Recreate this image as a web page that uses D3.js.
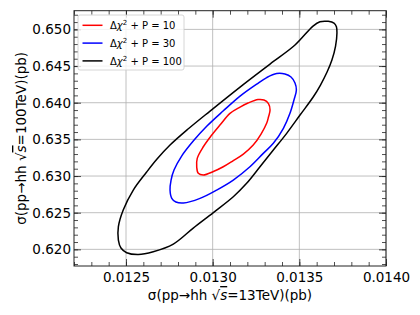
<!DOCTYPE html>
<html>
<head>
<meta charset="utf-8">
<script src="https://cdn.jsdelivr.net/npm/d3@7"></script>
<style>
  body { margin: 0; background: #fff; }
  svg { font-family: "DejaVu Sans", sans-serif; }
  .grid line { stroke: #b0b0b0; stroke-width: 0.8; }
  .contour { fill: none; stroke-width: 1.5; stroke-linejoin: round; }
</style>
</head>
<body>
<svg id="chart"></svg>
<script>
const width = 420, height = 315;
const margin = { left: 74, right: 34, top: 10.7, bottom: 49 };

// contour levels (legend order)
const levels = ["10", "30", "100"];
const colors = ["#ff0000", "#0000ff", "#000000"];

// contour points [sigma13, sigma100]
const contour10 = [
  [0.013262, 0.640431], [0.013296, 0.640363], [0.013322, 0.639886], [0.013331, 0.639000],
  [0.013322, 0.638045], [0.013312, 0.637226], [0.013279, 0.635726], [0.013234, 0.634226],
  [0.013177, 0.633000], [0.013119, 0.632113], [0.013061, 0.631267], [0.013004, 0.630613],
  [0.012946, 0.630136], [0.012917, 0.630367], [0.012908, 0.631227], [0.012911, 0.632413],
  [0.012946, 0.633995], [0.012990, 0.635454], [0.013042, 0.636954], [0.013100, 0.638549],
  [0.013158, 0.639408], [0.013204, 0.639954]
];
const contour30 = [
  [0.013369, 0.643977], [0.013417, 0.643909], [0.013452, 0.643500], [0.013475, 0.642682],
  [0.013483, 0.641727], [0.013469, 0.640363], [0.013446, 0.638549], [0.013408, 0.636503],
  [0.013350, 0.634458], [0.013292, 0.633094], [0.013215, 0.631267], [0.013119, 0.629453],
  [0.013023, 0.628091], [0.012927, 0.626958], [0.012831, 0.626318],
  [0.012788, 0.626454], [0.012764, 0.626958], [0.012754, 0.628091], [0.012760, 0.629454],
  [0.012777, 0.630818], [0.012821, 0.632727], [0.012888, 0.634772], [0.012967, 0.636818],
  [0.013060, 0.638863], [0.013158, 0.640909], [0.013254, 0.642545], [0.013312, 0.643431]
];
const contour100 = [
  [0.013619, 0.651041], [0.013667, 0.651095], [0.013700, 0.650863], [0.013714, 0.650359],
  [0.013717, 0.649500], [0.013709, 0.647727], [0.013688, 0.645818], [0.013660, 0.644182],
  [0.013622, 0.642408], [0.013581, 0.640813], [0.013504, 0.638317], [0.013427, 0.635822],
  [0.013350, 0.633544], [0.013273, 0.631267], [0.013196, 0.629003], [0.013119, 0.627176],
  [0.013004, 0.625021], [0.012888, 0.622907], [0.012773, 0.620727],
  [0.012657, 0.619677], [0.012571, 0.619295],
  [0.012504, 0.619541], [0.012471, 0.620182], [0.012456, 0.621273], [0.012456, 0.623087],
  [0.012484, 0.625364], [0.012542, 0.628091], [0.012619, 0.630545], [0.012679, 0.632317],
  [0.012754, 0.634226], [0.012858, 0.636408], [0.012985, 0.638863], [0.013158, 0.642136],
  [0.013331, 0.645272], [0.013475, 0.647863], [0.013579, 0.650454]
];
const contours = [contour10, contour30, contour100];

// axis ticks
const xMajor = [0.0125, 0.0130, 0.0135, 0.0140];
const yMajor = [0.620, 0.625, 0.630, 0.635, 0.640, 0.645, 0.650];
const xDomain = [0.0122, 0.0140];
const yDomain = [0.61773, 0.65255];

const svg = d3.select("#chart").attr("width", width).attr("height", height);
const x0 = margin.left, x1 = width - margin.right;
const y0 = height - margin.bottom, y1 = margin.top;

const x = d3.scaleLinear().domain(xDomain).range([x0, x1]);
const y = d3.scaleLinear().domain(yDomain).range([y0, y1]);

const xMinor = d3.range(122, 141).map(d => d / 10000);
const yMinor = d3.range(618, 653).map(d => d / 1000);

// grid lines
const grid = svg.append("g").attr("class", "grid");
grid.selectAll(".gx").data(xMajor).enter().append("line")
    .attr("x1", d => x(d)).attr("x2", d => x(d))
    .attr("y1", y0).attr("y2", y1);
grid.selectAll(".gy").data(yMajor).enter().append("line")
    .attr("y1", d => y(d)).attr("y2", d => y(d))
    .attr("x1", x0).attr("x2", x1);

// contours
const line = d3.line()
    .x(d => x(d[0]))
    .y(d => y(d[1]))
    .curve(d3.curveCatmullRomClosed.alpha(0.5));
svg.selectAll(".contour").data(contours).enter().append("path")
    .attr("class", "contour")
    .attr("d", line)
    .attr("stroke", (d, i) => colors[i]);

// axes with inward ticks on all sides
function addAxis(axisFn, scale, vals, len, transform, fmt) {
    const a = axisFn(scale).tickValues(vals).tickSizeInner(-len).tickSizeOuter(0);
    if (fmt) a.tickFormat(fmt).tickPadding(len === 7 ? 4 : 3);
    else a.tickFormat("");
    const g = svg.append("g").attr("transform", transform).call(a);
    g.select(".domain").remove();
    g.selectAll(".tick line").attr("stroke", "#222").attr("stroke-width", 0.8);
    g.selectAll("text").attr("font-size", 13.5).attr("fill", "#000")
        .attr("font-family", "DejaVu Sans");
    return g;
}
const xLabelFmt = d3.format(".4f"), yLabelFmt = d3.format(".3f");
addAxis(d3.axisBottom, x, xMinor, 4, `translate(0,${y0})`, null);
addAxis(d3.axisBottom, x, xMajor, 7, `translate(0,${y0})`, xLabelFmt)
    .selectAll("text").attr("dy", "0.71em").attr("y", 6);
addAxis(d3.axisTop, x, xMinor, 4, `translate(0,${y1})`, null);
addAxis(d3.axisTop, x, xMajor, 7, `translate(0,${y1})`, null);
addAxis(d3.axisLeft, y, yMinor, 4, `translate(${x0},0)`, null);
addAxis(d3.axisLeft, y, yMajor, 7, `translate(${x0},0)`, yLabelFmt)
    .selectAll("text").attr("x", -3);
addAxis(d3.axisRight, y, yMinor, 4, `translate(${x1},0)`, null);
addAxis(d3.axisRight, y, yMajor, 7, `translate(${x1},0)`, null);

// frame
svg.append("rect")
    .attr("x", x0).attr("y", y1)
    .attr("width", x1 - x0).attr("height", y0 - y1)
    .attr("fill", "none").attr("stroke", "#222").attr("stroke-width", 1);

// axis labels
function axisLabel(t, energy) {
    t.append("tspan").text("σ(pp→hh ");
    t.append("tspan").text("√");
    t.append("tspan").attr("font-style", "italic")
        .style("text-decoration", "overline").text("s");
    t.append("tspan").text("=" + energy + "TeV)(pb)");
}
const xl = svg.append("text")
    .attr("x", (x0 + x1) / 2).attr("y", 300)
    .attr("text-anchor", "middle").attr("font-size", 13.5);
axisLabel(xl, "13");
const yl = svg.append("text")
    .attr("transform", `translate(26,${(y0 + y1) / 2}) rotate(-90)`)
    .attr("text-anchor", "middle").attr("font-size", 13.5);
axisLabel(yl, "100");

// legend
const legend = svg.append("g");
legend.append("rect")
    .attr("x", 78).attr("y", 15).attr("width", 106).attr("height", 55)
    .attr("rx", 2)
    .attr("fill", "#fff").attr("fill-opacity", 0.8)
    .attr("stroke", "#cccccc").attr("stroke-width", 0.8);
levels.forEach((lv, i) => {
    const ly = 25.3 + i * 17.8;
    legend.append("line")
        .attr("x1", 82.5).attr("x2", 102.5).attr("y1", ly).attr("y2", ly)
        .attr("stroke", colors[i]).attr("stroke-width", 1.5);
    const t = legend.append("text")
        .attr("x", 110).attr("y", ly + 3.6).attr("font-size", 10);
    t.append("tspan").text("Δ");
    t.append("tspan").attr("font-style", "italic").text("χ");
    t.append("tspan").attr("font-size", 7).attr("dy", -4).text("2");
    t.append("tspan").attr("dy", 4).text(" + P = " + lv);
});
</script>
</body>
</html>
